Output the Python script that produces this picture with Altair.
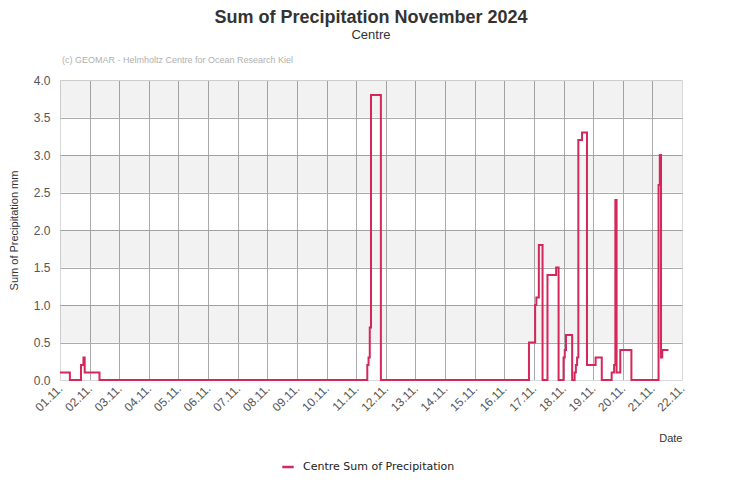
import altair as alt
import pandas as pd

# ---- data ----
times = [
    "2024-11-01T00:00", "2024-11-01T08:00", "2024-11-01T17:00", "2024-11-01T19:00",
    "2024-11-01T20:00", "2024-11-02T08:00",
    "2024-11-11T09:00", "2024-11-11T10:00", "2024-11-11T11:00", "2024-11-11T12:00",
    "2024-11-11T20:00",
    "2024-11-16T20:00", "2024-11-17T01:00", "2024-11-17T02:00", "2024-11-17T04:00",
    "2024-11-17T07:00", "2024-11-17T11:00", "2024-11-17T18:00", "2024-11-17T20:00",
    "2024-11-18T00:00", "2024-11-18T01:00", "2024-11-18T02:00", "2024-11-18T07:00",
    "2024-11-18T09:00", "2024-11-18T10:00", "2024-11-18T11:00", "2024-11-18T12:00",
    "2024-11-18T15:00", "2024-11-18T19:00",
    "2024-11-19T02:00", "2024-11-19T07:00", "2024-11-19T15:00", "2024-11-19T17:00",
    "2024-11-19T18:00", "2024-11-19T19:00", "2024-11-19T22:00",
    "2024-11-20T07:00",
    "2024-11-21T05:00", "2024-11-21T06:00", "2024-11-21T07:00", "2024-11-21T08:00",
    "2024-11-21T13:00",
]
values = [
    0.1, 0.0, 0.2, 0.3,
    0.1, 0.0,
    0.2, 0.3, 0.7, 3.8,
    0.0,
    0.5, 1.0, 1.1, 1.8,
    0.0, 1.4, 1.5, 0.0,
    0.3, 0.4, 0.6, 0.0,
    0.1, 0.2, 0.3, 3.2,
    3.3, 0.2,
    0.3, 0.0, 0.1, 0.2,
    2.4, 0.1, 0.4,
    0.0,
    2.6, 3.0, 0.3, 0.4,
    0.4,
]
series_name = "Centre Sum of Precipitation"
band_lo = [0.5, 1.5, 2.5, 3.5]
band_hi = [1.0, 2.0, 3.0, 4.0]
y_ticks = [0.0, 0.5, 1.0, 1.5, 2.0, 2.5, 3.0, 3.5, 4.0]
credit = "(c) GEOMAR - Helmholtz Centre for Ocean Research Kiel"

LINE = "#d4285a"
FONT = "Liberation Sans"

df = pd.DataFrame({"time": times, "value": values, "series": series_name})
bands = pd.DataFrame({"lo": band_lo, "hi": band_hi})
credit_df = pd.DataFrame({"t": [credit]})

x_scale = alt.Scale(domain=[alt.DateTime(year=2024, month=11, date=1),
                            alt.DateTime(year=2024, month=11, date=22)])
y_scale = alt.Scale(domain=[0, 4], nice=False)

y_axis = alt.Axis(
    title="Sum of Precipitation mm", values=y_ticks, format=".1f",
    ticks=False, domain=False, labelPadding=10,
    labelFont=FONT, labelFontSize=12, labelColor="#555",
    gridColor={"condition": {"test": "datum.value <= 0 || datum.value >= 4",
                             "value": "#d8d8d8"}, "value": "#aaaaaa"},
    titleFont=FONT, titleFontSize=11, titleFontWeight="normal", titleColor="#333",
    titleX=-52, titleY=150, titleAngle=270, titleBaseline="top", titleAlign="center",
)

band_layer = alt.Chart(bands).mark_rect(color="black", opacity=0.05).encode(
    y=alt.Y("lo:Q", scale=y_scale, axis=y_axis, title="Sum of Precipitation mm"),
    y2="hi:Q",
    x=alt.value(0),
    x2=alt.value("width"),
)

line_layer = alt.Chart(df).mark_line(interpolate="step-after", strokeWidth=2).encode(
    x=alt.X("time:T", scale=x_scale,
            axis=alt.Axis(
                title="Date", format="%d.%m.", labelAngle=-45, labelAlign="right",
                labelBaseline="middle", labelPadding=6, labelOverlap=False,
                labelFlush=False, ticks=False, domain=False,
                tickCount={"interval": "day", "step": 1},
                labelFont=FONT, labelFontSize=12, labelColor="#555",
                gridColor={"condition": {"test": "datum.value <= datetime(2024,10,1) || datum.value >= datetime(2024,10,22)",
                                         "value": "#d8d8d8"}, "value": "#aaaaaa"},
                titleFont=FONT, titleFontSize=11, titleFontWeight="normal", titleColor="#333",
                titleAnchor="end", titleAlign="right", titleX=622, titleY=58,
                titleBaseline="middle",
            )),
    y=alt.Y("value:Q", scale=y_scale, axis=y_axis, title="Sum of Precipitation mm"),
    color=alt.Color("series:N", scale=alt.Scale(range=[LINE]),
                    legend=alt.Legend(orient="none", legendX=221, legendY=380, title=None,
                                      symbolType="stroke", symbolStrokeWidth=2.5, symbolSize=130,
                                      labelFont="DejaVu Sans", labelFontSize=11, labelColor="#222",
                                      labelOffset=8, padding=0)),
)

credit_layer = alt.Chart(credit_df).mark_text(
    align="left", baseline="middle", font=FONT, fontSize=9, color="#b0b0b0"
).encode(text="t:N", x=alt.value(2), y=alt.value(-20))

chart = alt.layer(band_layer, line_layer, credit_layer).properties(
    width=622, height=300,
    autosize=alt.AutoSizeParams(type="none"),
    padding={"left": 52, "top": 72, "right": 40, "bottom": 100},
    title=alt.TitleParams(
        text="Sum of Precipitation November 2024", subtitle="Centre",
        font=FONT, fontSize=18, fontWeight="bold", color="#333",
        subtitleFont=FONT, subtitleFontSize=13, subtitleColor="#333",
        subtitlePadding=2, anchor="middle", offset=14,
    ),
).configure_view(stroke="#d8d8d8").configure(background="white")

chart.save("out.html", embed_options={"renderer": "svg", "actions": False})
